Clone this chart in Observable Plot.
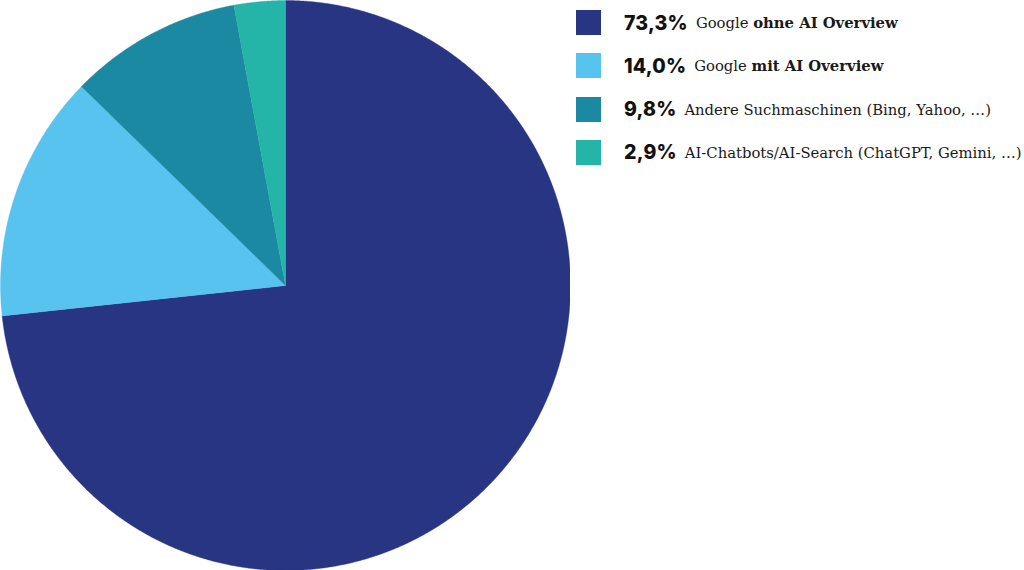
<!DOCTYPE html>
<html><head><meta charset="utf-8">
<script src="https://cdn.jsdelivr.net/npm/d3@7"></script>
<script src="https://cdn.jsdelivr.net/npm/@observablehq/plot@0.6"></script>
<style>
html,body{margin:0;padding:0;background:#fff;}
#wrap{position:relative;width:1024px;height:570px;overflow:hidden;}
#chart{position:absolute;left:0;top:0;}
#legend{position:absolute;left:576px;top:10px;}
.row{display:flex;align-items:center;height:25px;margin-bottom:18.3px;white-space:nowrap;}
.sw{width:25px;height:25px;flex:none;margin-right:23px;}
.pct{font-family:Inter,sans-serif;font-weight:800;font-size:19.5px;color:#111;letter-spacing:0.2px;margin-right:8px;}
.lab{font-family:"DejaVu Serif",serif;font-size:14.8px;color:#1a1a1a;}
.lab b{font-weight:bold;}
</style>
</head><body>
<div id="wrap"><div id="chart"></div><div id="legend"></div></div>
<script>
const categories = ["Google ohne AI Overview","Google mit AI Overview","Andere Suchmaschinen (Bing, Yahoo, …)","AI-Chatbots/AI-Search (ChatGPT, Gemini, …)"];
const values = [73.3, 14.0, 9.8, 2.9];
const percentLabels = ["73,3%","14,0%","9,8%","2,9%"];
const labelPlain = ["Google ","Google ","Andere Suchmaschinen (Bing, Yahoo, …)","AI-Chatbots/AI-Search (ChatGPT, Gemini, …)"];
const labelBold = ["ohne AI Overview","mit AI Overview","",""];
const colors = ["#283583","#58c3ef","#1b89a1","#25b5a8"];

const arcs = d3.pie().sort(null).value((d,i)=>values[i])(categories);
const rows = [];
arcs.forEach((a,i)=>{
  const cat = categories[i];
  rows.push({cat, x:0, y:0});
  const n = Math.max(4, Math.ceil((a.endAngle-a.startAngle)/0.004));
  for(let k=0;k<=n;k++){
    const t = a.startAngle + (a.endAngle-a.startAngle)*k/n;
    rows.push({cat, x:Math.sin(t), y:Math.cos(t)});
  }
  rows.push({cat, x:0, y:0});
});

const plot = Plot.plot({
  width:570, height:570, margin:0,
  x:{domain:[-1,1], axis:null},
  y:{domain:[-1,1], axis:null},
  color:{domain:categories, range:colors},
  marks:[
    Plot.line(rows,{x:"x",y:"y",z:"cat",fill:"cat",stroke:"cat",strokeWidth:0.4})
  ]
});
document.getElementById("chart").appendChild(plot);

const leg = document.getElementById("legend");
categories.forEach((c,i)=>{
  const r = document.createElement("div"); r.className="row";
  const sw = document.createElement("div"); sw.className="sw"; sw.style.background=colors[i];
  const p = document.createElement("span"); p.className="pct"; p.textContent=percentLabels[i];
  const l = document.createElement("span"); l.className="lab";
  l.appendChild(document.createTextNode(labelPlain[i]));
  if(labelBold[i]){const b=document.createElement("b"); b.textContent=labelBold[i]; l.appendChild(b);}
  r.appendChild(sw); r.appendChild(p); r.appendChild(l);
  leg.appendChild(r);
});
</script>
</body></html>
